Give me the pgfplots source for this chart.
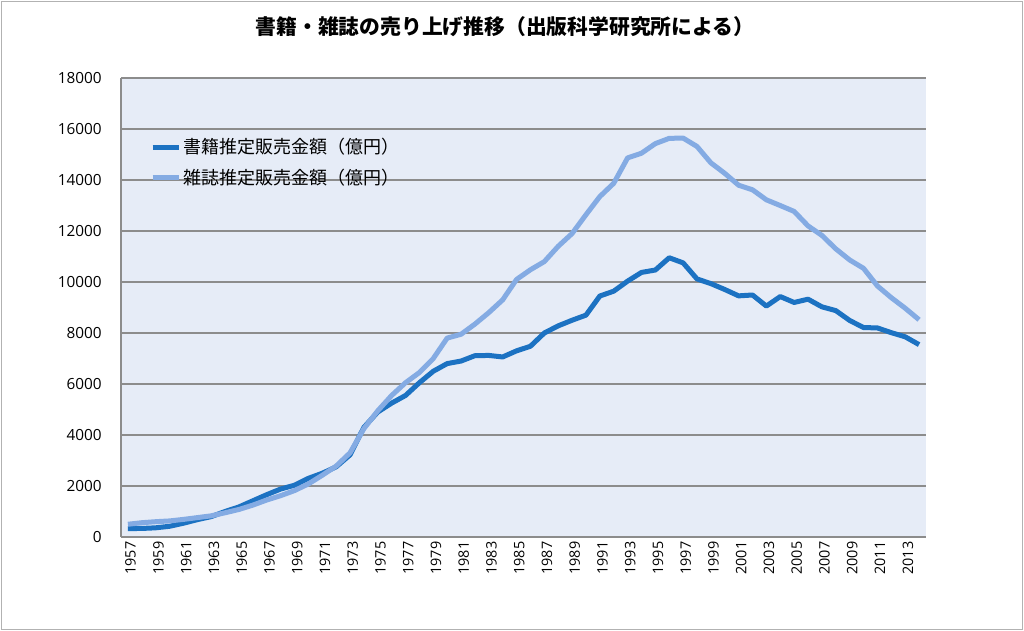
\documentclass[border=0pt]{standalone}
\usepackage{fontspec}
\setmainfont{Open Sans}
\newfontfamily\cjk{Noto Sans CJK JP}
\usepackage{pgfplots}
\pgfplotsset{compat=1.18}
\usepackage{pgfplotstable}
\definecolor{books}{RGB}{28,114,194}
\definecolor{mags}{RGB}{132,171,227}
\definecolor{bgcol}{RGB}{230,236,247}
\definecolor{gridc}{RGB}{140,140,140}
\pgfplotstableread{
year books mags
1957 330 500
1958 335 560
1959 360 600
1960 420 630
1961 540 690
1962 680 760
1963 800 830
1964 1000 950
1965 1180 1080
1966 1420 1250
1967 1660 1450
1968 1880 1620
1969 2030 1820
1970 2300 2080
1971 2500 2420
1972 2750 2780
1973 3220 3300
1974 4300 4250
1975 4900 4950
1976 5250 5550
1977 5550 6050
1978 6050 6450
1979 6500 7000
1980 6800 7800
1981 6900 7950
1982 7110 8350
1983 7120 8800
1984 7060 9300
1985 7300 10100
1986 7480 10480
1987 8000 10800
1988 8280 11400
1989 8500 11900
1990 8700 12638
1991 9450 13350
1992 9640 13870
1993 10034 14866
1994 10375 15050
1995 10470 15427
1996 10950 15633
1997 10750 15644
1998 10120 15315
1999 9936 14672
2000 9706 14261
2001 9456 13794
2002 9490 13616
2003 9056 13222
2004 9429 12998
2005 9197 12767
2006 9326 12200
2007 9026 11827
2008 8878 11299
2009 8492 10864
2010 8213 10536
2011 8199 9844
2012 8013 9385
2013 7851 8972
2014 7544 8520
}\datatable
\begin{document}
\begin{tikzpicture}
\path[use as bounding box] (0pt,0pt) rectangle (768pt,473.25pt);
\draw[gray!60, line width=0.8pt] (1.2pt,1.2pt) rectangle (766.8pt,472pt);
\node[font=\cjk\bfseries\fontsize{15.6}{18}\selectfont] at (378.75pt,453pt) {書籍・雑誌の売り上げ推移（出版科学研究所による）};
\begin{axis}[
  at={(90.75pt,70.5pt)}, anchor=south west,
  scale only axis, width=603.75pt, height=344.25pt,
  xmin=1956.5, xmax=2014.5,
  ymin=0, ymax=18000,
  ytick={0,2000,...,18000},
  scaled y ticks=false,
  xtick={1957,1959,...,2013},
  xticklabels={1957,1959,1961,1963,1965,1967,1969,1971,1973,1975,1977,1979,1981,1983,1985,1987,1989,1991,1993,1995,1997,1999,2001,2003,2005,2007,2009,2011,2013},
  /pgf/number format/fixed,
  /pgf/number format/1000 sep={},
  /pgf/number format/assume math mode=true,
  major tick length=0pt,
  axis lines*=left,
  axis line style={draw=gridc, line width=1.1pt},
  ymajorgrids, grid style={draw=gridc, line width=1pt},
  axis background/.style={fill=bgcol},
  yticklabel style={font=\fontsize{11.5}{12}\selectfont, xshift=-11pt},
  xticklabel style={font=\fontsize{10.8}{12}\selectfont, rotate=90, anchor=east, yshift=-2pt},
  legend style={at={(0.036,0.875)}, anchor=north west, draw=none, fill=none,
    font=\cjk\fontsize{13.5}{15}\selectfont, row sep=6pt, inner sep=0pt,
    nodes={inner xsep=1pt}},
  legend cell align=left,
  legend image code/.code={\draw[#1, line width=3.75pt] (0pt,0pt) -- (20pt,0pt);},
]
\addplot[books, line width=3.75pt, line join=round] table[x=year, y=books] {\datatable};
\addlegendentry{書籍推定販売金額（億円）}
\addplot[mags, line width=3.75pt, line join=round] table[x=year, y=mags] {\datatable};
\addlegendentry{雑誌推定販売金額（億円）}
\end{axis}
\end{tikzpicture}
\end{document}
